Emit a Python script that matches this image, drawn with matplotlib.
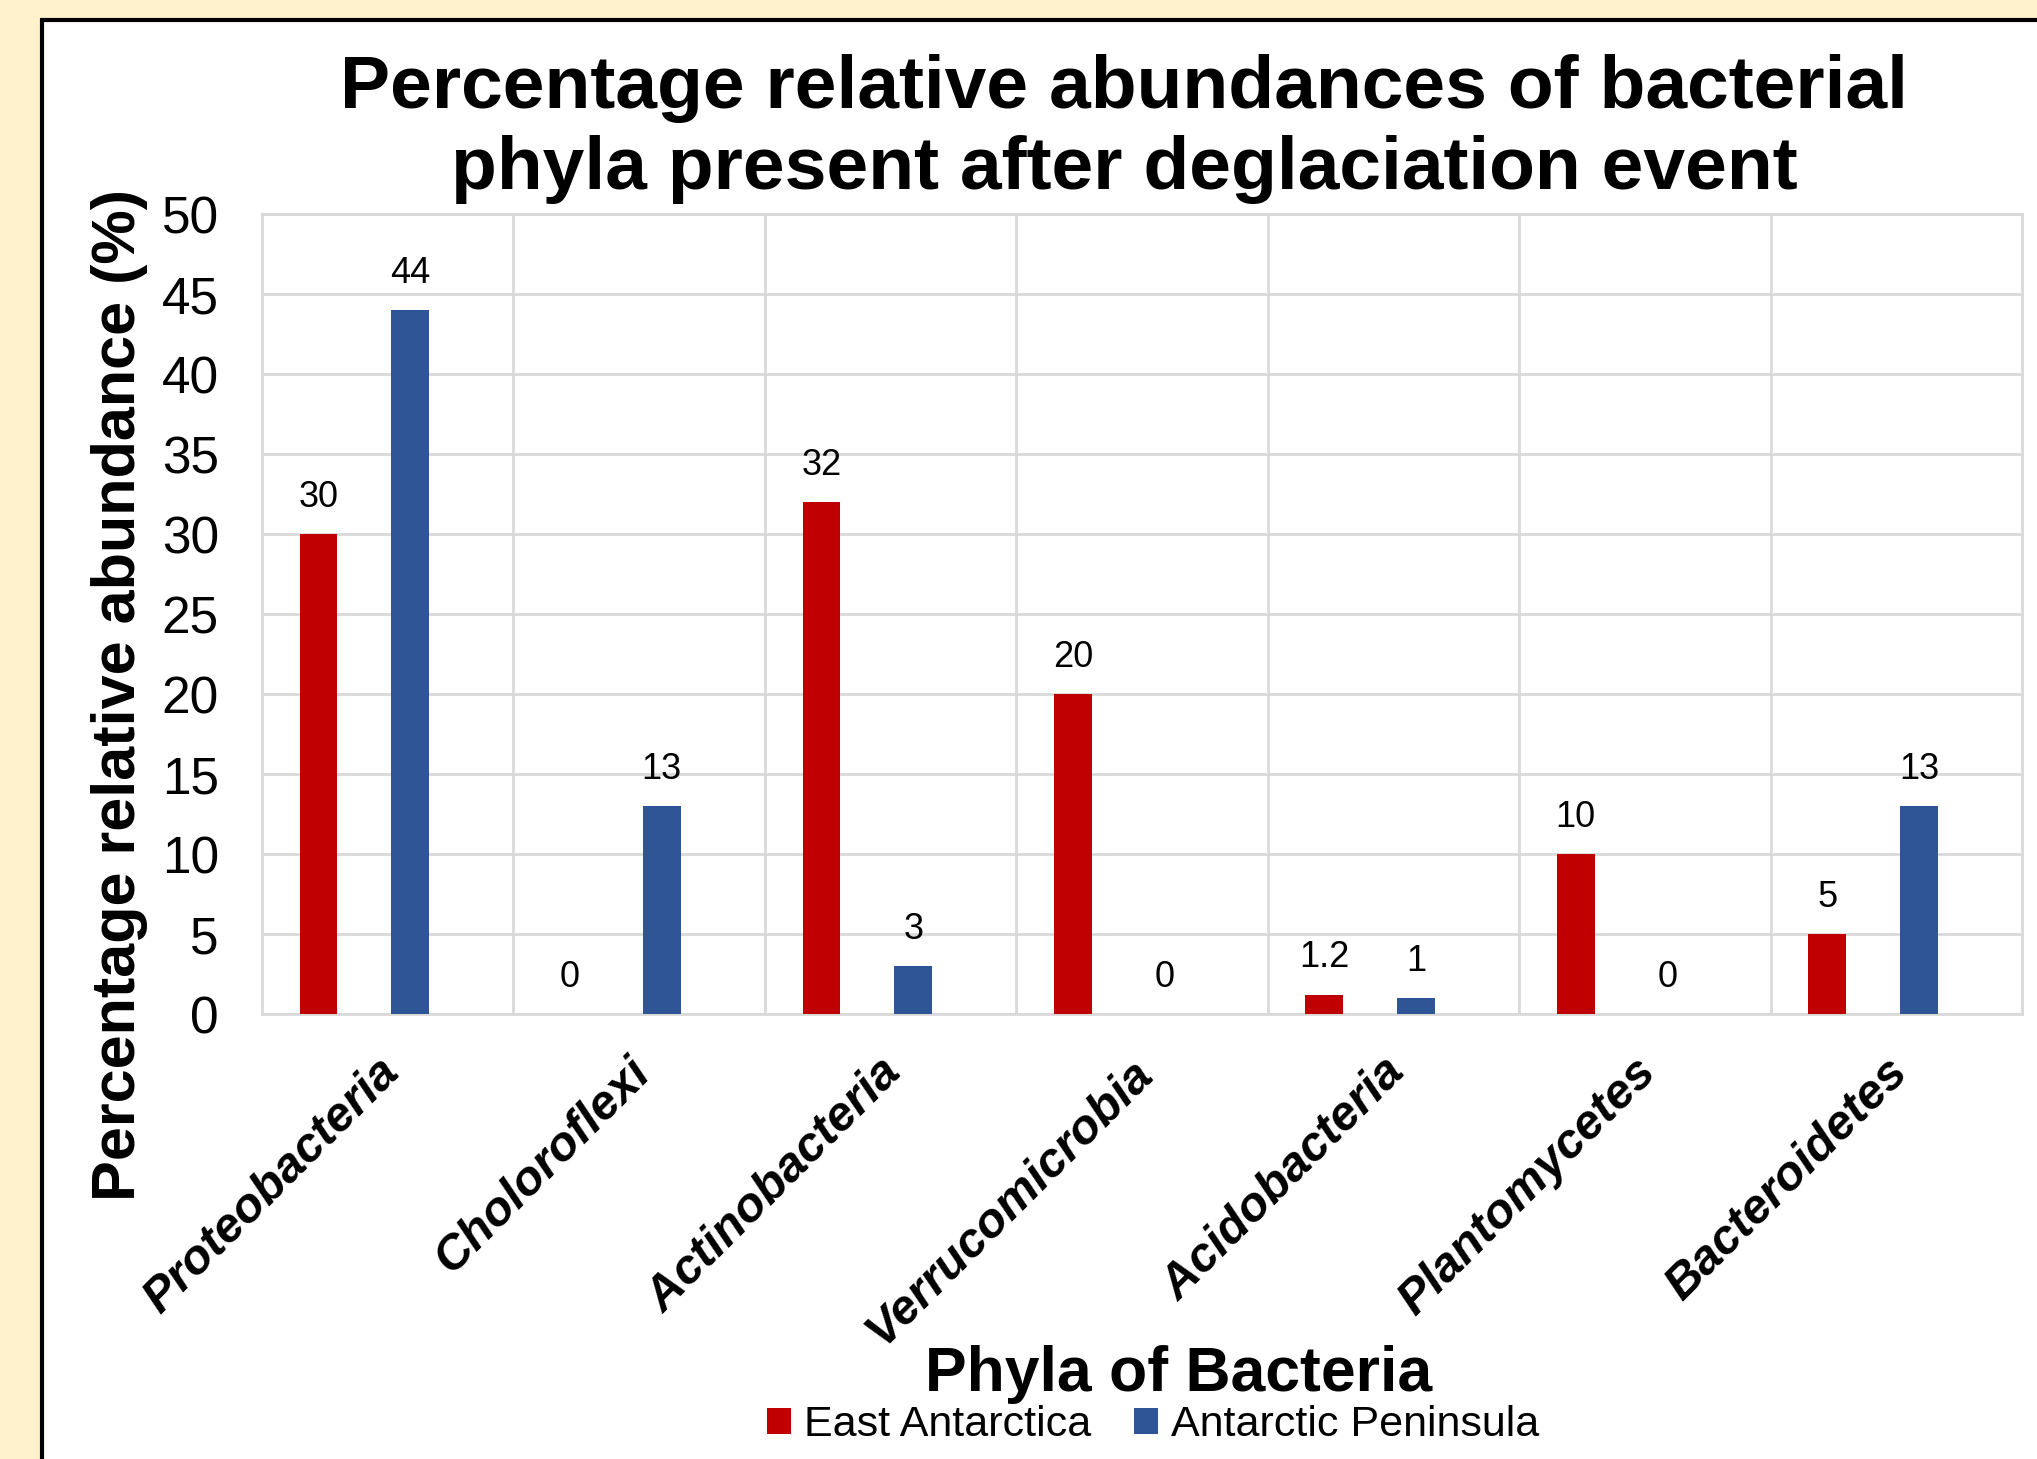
import matplotlib
matplotlib.use("Agg")
import matplotlib.pyplot as plt
from matplotlib.patches import Rectangle
import numpy as np

phyla = ["Proteobacteria", "Choloroflexi", "Actinobacteria", "Verrucomicrobia",
         "Acidobacteria", "Plantomycetes", "Bacteroidetes"]
east_antarctica = [30, 0, 32, 20, 1.2, 10, 5]
antarctic_peninsula = [44, 13, 3, 0, 1, 0, 13]
series_names = ["East Antarctica", "Antarctic Peninsula"]
colors = ["#C00000", "#2F5597"]

plt.rcParams['font.family'] = ['Liberation Sans', 'DejaVu Sans']

W, H = 2037, 1459
fig = plt.figure(figsize=(W / 100, H / 100), dpi=100)
fig.patch.set_facecolor("#FFF2CC")

# white chart frame with black border
frame = Rectangle((42 / W, -0.1), 1.2, (H - 20) / H + 0.1, transform=fig.transFigure,
                  facecolor="white", edgecolor="black", linewidth=3, zorder=-10)
fig.patches.append(frame)

ax = fig.add_axes([262 / W, 1 - 1014 / H, (2022 - 262) / W, (1014 - 214) / H])
ax.set_facecolor("white")

x = np.arange(len(phyla))
bw = 0.15
b1 = ax.bar(x - 0.275, east_antarctica, bw, color=colors[0], label=series_names[0], zorder=3)
b2 = ax.bar(x + 0.09, antarctic_peninsula, bw, color=colors[1], label=series_names[1], zorder=3)
ax.bar_label(b1, labels=[f"{v:g}" for v in east_antarctica], padding=14, fontsize=26)
ax.bar_label(b2, labels=[f"{v:g}" for v in antarctic_peninsula], padding=14, fontsize=26)

ax.set_xlim(-0.5, len(phyla) - 0.5)
ax.set_ylim(0, 50)
ax.set_yticks(range(0, 51, 5))
ax.tick_params(axis='y', labelsize=37, length=0, pad=31)
ax.tick_params(axis='x', length=0)
ax.set_xticks(x)
ax.set_xticklabels([])
ax.grid(axis='y', color="#D9D9D9", linewidth=2, zorder=0)
for b in np.arange(0.5, len(phyla) - 0.5, 1):
    ax.axvline(b, color="#D9D9D9", linewidth=2, zorder=0)
for s in ax.spines.values():
    s.set_color("#D9D9D9")
    s.set_linewidth(2)

# rotated category labels
for i, name in enumerate(phyla):
    ax.annotate(name, xy=(i, 0), xytext=(-12, -36), textcoords='offset pixels',
                rotation=45, rotation_mode='anchor', ha='right', va='top',
                fontsize=35, fontweight='bold', fontstyle='italic')

fig.text(1124 / W, 1 - 129 / H,
         "Percentage relative abundances of bacterial\nphyla present after deglaciation event",
         ha='center', va='center', fontsize=54, fontweight='bold', linespacing=1.22)
fig.text(120 / W, 1 - 695 / H, "Percentage relative abundance (%)", rotation=90,
         ha='center', va='center', fontsize=44, fontweight='bold')
fig.text(1179 / W, 1 - 1374 / H, "Phyla of Bacteria", ha='center', va='center',
         fontsize=45, fontweight='bold')

fig.legend(handles=[b1, b2], loc='center', bbox_to_anchor=(1153 / W, 1 - 1425 / H),
           ncol=2, frameon=False, fontsize=31, handlelength=0.55, handleheight=0.55,
           handletextpad=0.3, columnspacing=1.0, borderpad=0)

fig.savefig("out.png", dpi=100, facecolor=fig.get_facecolor())
